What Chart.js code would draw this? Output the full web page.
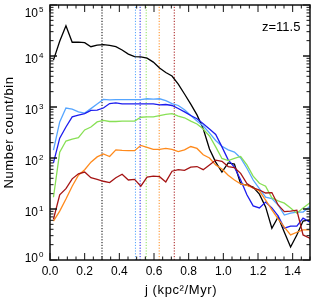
<!DOCTYPE html>
<html>
<head>
<meta charset="utf-8">
<script src="https://cdn.jsdelivr.net/npm/chart.js@4.4.1/dist/chart.umd.min.js"></script>
<style>
  html, body { margin: 0; padding: 0; background: #fff; }
  #wrap { width: 313px; height: 298px; }
</style>
</head>
<body>
<div id="wrap"><canvas id="chart" width="313" height="298"></canvas></div>
<script>
// bin centres in j (kpc^2/Myr)
const binJ = [0.02, 0.056, 0.092, 0.128, 0.164, 0.2, 0.236, 0.272, 0.308, 0.344,
  0.38, 0.416, 0.452, 0.488, 0.524, 0.56, 0.596, 0.632, 0.668, 0.704,
  0.74, 0.776, 0.812, 0.848, 0.884, 0.92, 0.956, 0.992, 1.028, 1.064,
  1.1, 1.136, 1.172, 1.208, 1.244, 1.28, 1.316, 1.352, 1.388, 1.424,
  1.46, 1.496, 1.532];

const countBlack = [8300, 19500, 39000, 18600, 18700, 18300, 15200, 16300, 16700, 16100,
  15200, 13100, 10900, 9700, 9600, 9100, 7600, 5800, 4750, 4050,
  2800, 1800, 1140, 700, 375, 150, 83, 53, 80, 76,
  31, 29.5, 27, 19.6, 11, 4.2, 7, 3.5, 1.8, 3.1,
  5.8, 6.1, 6.5];
const countLightBlue = [143, 510, 955, 910, 800, 760, 930, 1140, 1410, 1380,
  1400, 1400, 1400, 1400, 1400, 1450, 1430, 1450, 1330, 1170,
  1070, 880, 680, 530, 425, 310, 220, 170, 144, 131,
  100, 63, 37, 25, 17, 16, 12, 7.6, 8.3, 8.7,
  8.7, 11, 12];
const countBlue = [80, 245, 405, 640, 690, 745, 860, 870, 955, 1170,
  1200, 1150, 1150, 1150, 1150, 1150, 1150, 1100, 1120, 1070,
  935, 800, 680, 590, 470, 370, 290, 165, 92, 66,
  37, 19, 11.5, 10.5, 13.7, 10.5, 7.3, 4.2, 4.6, 4.6,
  6.6, 5.6, 6];
const countGreen = [17, 130, 215, 235, 250, 355, 405, 510, 545, 520,
  520, 530, 530, 530, 630, 640, 640, 680, 720, 740,
  665, 615, 530, 465, 370, 270, 165, 98, 89, 98,
  107, 73, 44, 32, 28, 16.5, 14.4, 13, 10.5, 8.3,
  10.5, 13, 15];
const countOrange = [5.8, 9.1, 15.7, 28, 46, 59, 83, 105, 120, 107,
  144, 141, 140, 139, 177, 162, 148, 148, 155, 147,
  134, 144, 168, 154, 116, 100, 73, 61, 46, 37,
  31, 29, 26, 22.5, 15, 9.6, 6.4, 4.4, 3.1, 3.5,
  3.9, 3.9, 3.9];
const countDarkRed = [6.3, 19, 25, 39, 49, 53, 41, 38, 35, 33,
  41, 48, 37, 38, 28, 42, 44, 43, 34, 55,
  59, 57, 66, 68, 59, 73, 91, 86, 68, 65,
  50, 31.6, 26, 23.6, 20.6, 21, 12, 8.9, 9.1, 9.5,
  3.1, 2.7, 2.2];

// dotted reference lines (one per sample)
const refJ = [0.30, 0.493, 0.52, 0.555, 0.63, 0.717];
const seriesColors = ["#000000", "#55a5ff", "#1c1cee", "#88e055", "#ff8a1c", "#a51414"];
const seriesCounts = [countBlack, countLightBlue, countBlue, countGreen, countOrange, countDarkRed];

const yTickValues = [1, 10, 100, 1000, 10000, 100000];
const xTickValues = [0, 0.2, 0.4, 0.6, 0.8, 1.0, 1.2, 1.4];
const redshiftLabel = "z=11.5";

const FONT = '"Liberation Sans", Arial, sans-serif';

const datasets = [];
// last series drawn on top, so push in reverse
for (let s = seriesCounts.length - 1; s >= 0; s--) {
  datasets.push({
    data: binJ.map((j, i) => ({ x: j, y: seriesCounts[s][i] })),
    borderColor: seriesColors[s],
    borderWidth: 1.3,
    pointRadius: 0,
    tension: 0,
  });
}
refJ.forEach((j, s) => {
  datasets.push({
    data: [{ x: j, y: yTickValues[0] }, { x: j, y: yTickValues[yTickValues.length - 1] }],
    borderColor: seriesColors[s],
    borderWidth: 1,
    borderDash: [1.2, 1.6],
    pointRadius: 0,
  });
});

// frame, inward ticks, y labels with exponents, titles
const framePlugin = {
  id: "frame",
  afterDraw(chart) {
    const ctx = chart.ctx;
    const area = chart.chartArea;
    const xs = chart.scales.x;
    const ys = chart.scales.y;
    ctx.save();
    ctx.strokeStyle = "#111";
    ctx.lineWidth = 1.5;
    ctx.strokeRect(area.left, area.top, area.right - area.left, area.bottom - area.top);

    ctx.lineWidth = 1;
    ctx.beginPath();
    for (let k = 0; k <= 30; k++) {
      const v = k * 0.05;
      const px = xs.getPixelForValue(v);
      const len = k % 4 === 0 ? 7 : 3.5;
      ctx.moveTo(px, area.bottom);
      ctx.lineTo(px, area.bottom - len);
      ctx.moveTo(px, area.top);
      ctx.lineTo(px, area.top + len);
    }
    for (let e = 0; e < 5; e++) {
      for (let m = 1; m <= 10; m++) {
        const py = ys.getPixelForValue(m * Math.pow(10, e));
        const len = m === 1 || m === 10 ? 7 : 3.5;
        ctx.moveTo(area.left, py);
        ctx.lineTo(area.left + len, py);
        ctx.moveTo(area.right, py);
        ctx.lineTo(area.right - len, py);
      }
    }
    ctx.stroke();

    ctx.fillStyle = "#000";
    yTickValues.forEach((v) => {
      const py = ys.getPixelForValue(v);
      const base = Math.min(Math.max(py + 7, 17), 262);
      ctx.font = "12px " + FONT;
      ctx.textAlign = "right";
      ctx.textBaseline = "alphabetic";
      ctx.fillText("10", 38, base);
      ctx.font = "8px " + FONT;
      ctx.textAlign = "left";
      ctx.fillText(String(Math.round(Math.log10(v))), 39, base - 5);
    });

    ctx.font = "13px " + FONT;
    ctx.letterSpacing = "0.6px";
    ctx.textAlign = "center";
    ctx.fillText("j (kpc²/Myr)", 181, 294);

    ctx.save();
    ctx.translate(13, 132.5);
    ctx.rotate(-Math.PI / 2);
    ctx.fillText("Number count/bin", 0, 0);
    ctx.restore();

    ctx.letterSpacing = "0px";
    ctx.textAlign = "left";
    ctx.fillText(redshiftLabel, 262, 31);
    ctx.restore();
  },
};

new Chart(document.getElementById("chart"), {
  type: "line",
  data: { datasets },
  options: {
    responsive: false,
    devicePixelRatio: 1,
    animation: false,
    layout: { padding: { left: 0, right: 3, top: 5, bottom: 0 } },
    plugins: { legend: { display: false }, tooltip: { enabled: false } },
    scales: {
      x: {
        type: "linear",
        min: 0,
        max: 1.5,
        grid: { display: false, drawTicks: false },
        border: { display: false },
        afterBuildTicks: (scale) => {
          scale.ticks = xTickValues.map((v) => ({ value: v }));
        },
        afterFit: (scale) => {
          scale.height = 38;
        },
        ticks: {
          color: "#000",
          padding: 4,
          maxRotation: 0,
          font: { family: FONT, size: 12 },
          callback: (v) => Number(v).toFixed(1),
        },
      },
      y: {
        type: "logarithmic",
        min: 1,
        max: 100000,
        grid: { display: false, drawTicks: false },
        border: { display: false },
        ticks: { display: false },
        afterBuildTicks: (scale) => {
          scale.ticks = yTickValues.map((v) => ({ value: v }));
        },
        afterFit: (scale) => {
          scale.width = 50;
        },
      },
    },
  },
  plugins: [framePlugin],
});
</script>
</body>
</html>
